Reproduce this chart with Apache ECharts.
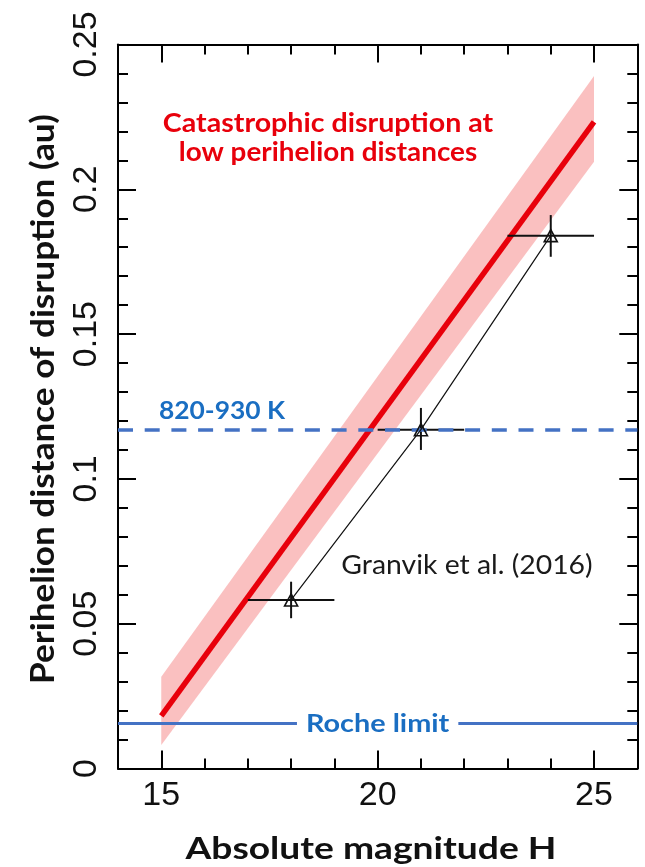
<!DOCTYPE html>
<html>
<head>
<meta charset="utf-8">
<script src="https://cdn.jsdelivr.net/npm/echarts@6/dist/echarts.min.js"></script>
<style>
  html, body { margin: 0; padding: 0; background: #fff; }
  #chart { width: 645px; height: 867px; }
</style>
</head>
<body>
<div id="chart"></div>
<script>
// Fitted disruption distance against absolute magnitude (straight line)
const fitH = [15, 25];
const fitQ = [0.0182, 0.2233];

// Uncertainty band around the fit: lower and upper edges
const bandH = [15, 25];
const bandLow = [0.0081, 0.2095];
const bandHigh = [0.0317, 0.2391];

// Granvik et al. (2016) estimates with their error ranges
const granvikH = [18, 21, 24];
const granvikQ = [0.0582, 0.117, 0.184];
const granvikHLow = [17, 20, 23];
const granvikHHigh = [19, 22, 25];
const granvikQLow = [0.0519, 0.110, 0.1767];
const granvikQHigh = [0.0645, 0.1245, 0.1911];

// Reference perihelion distances
const rocheLimit = 0.0156;
const sublimationQ = 0.117;

// Axis ranges and ticks
const xRange = [14, 26];
const yRange = [0, 0.25];
const xMajorTicks = [15, 20, 25];
const xMinorTicks = [14, 15, 16, 17, 18, 19, 20, 21, 22, 23, 24, 25, 26];
const yMajorStep = 0.05;

const BLUE_LINE = '#4472c4';
const BLUE_TEXT = '#1a6ec2';
const RED = '#e8000b';
const TICK_FONT = '"Liberation Sans", Arial, sans-serif';
const TEXT_FONT = 'Lato, "Open Sans", sans-serif';

const chart = echarts.init(document.getElementById('chart'), null, { renderer: 'canvas' });

const lineStyleBlack = { color: '#000', width: 2 };

function xAxisDef(position, ticks, len, showLine, showLabels) {
  return {
    type: 'value', position: position, min: xRange[0], max: xRange[1],
    axisLine: { show: showLine, onZero: false, lineStyle: lineStyleBlack },
    axisTick: { show: true, inside: true, length: len, customValues: ticks, lineStyle: lineStyleBlack },
    axisLabel: showLabels ? {
      show: true, customValues: xMajorTicks, margin: 10,
      fontFamily: TICK_FONT, fontSize: 34, color: '#111'
    } : { show: false },
    splitLine: { show: false }
  };
}

function yAxisDef(position, showLabels) {
  return {
    type: 'value', position: position, min: yRange[0], max: yRange[1], interval: yMajorStep,
    axisLine: { show: true, onZero: false, lineStyle: lineStyleBlack },
    axisTick: { show: true, inside: true, length: 18, lineStyle: lineStyleBlack },
    minorTick: { show: true, splitNumber: 5, length: 10, lineStyle: { color: '#000', width: 2 } },
    axisLabel: showLabels ? {
      show: true, rotate: 90, margin: 14,
      fontFamily: TICK_FONT, fontSize: 34, color: '#111'
    } : { show: false },
    splitLine: { show: false },
    minorSplitLine: { show: false }
  };
}

const bandData = bandH.map((h, i) => [h, bandLow[i], bandHigh[i]]);
const errData = granvikH.map((h, i) => [h, granvikQ[i], granvikHLow[i], granvikHHigh[i], granvikQLow[i], granvikQHigh[i]]);

const option = {
  animation: false,
  backgroundColor: '#fff',
  grid: { left: 118, top: 44.5, right: 7.7, bottom: 98.5, containLabel: false },
  xAxis: [
    xAxisDef('bottom', xMajorTicks, 18, true, true),
    xAxisDef('bottom', xMinorTicks, 10, false, false),
    xAxisDef('top', xMajorTicks, 18, true, false),
    xAxisDef('top', xMinorTicks, 10, false, false)
  ],
  yAxis: [yAxisDef('left', true), yAxisDef('right', false)],
  series: [
    {
      // shaded uncertainty band, one polygon per segment
      type: 'custom',
      xAxisIndex: 0, yAxisIndex: 0,
      z: 1,
      renderItem: function (params, api) {
        const i = params.dataIndex;
        if (i >= bandData.length - 1) return null;
        const a = bandData[i], b = bandData[i + 1];
        const pts = [
          api.coord([a[0], a[1]]), api.coord([b[0], b[1]]),
          api.coord([b[0], b[2]]), api.coord([a[0], a[2]])
        ];
        return { type: 'polygon', shape: { points: pts }, style: { fill: 'rgba(246,140,140,0.55)' } };
      },
      data: bandData,
      silent: true
    },
    {
      // best-fit line, with the two reference distances as horizontal lines
      type: 'line',
      xAxisIndex: 0, yAxisIndex: 0,
      z: 3,
      data: fitH.map((h, i) => [h, fitQ[i]]),
      symbol: 'none',
      lineStyle: { color: RED, width: 5.5 },
      silent: true,
      markLine: {
        silent: true,
        symbol: 'none',
        precision: 5,
        label: { show: false },
        data: [
          { yAxis: rocheLimit, lineStyle: { color: BLUE_LINE, width: 3, type: 'solid' } },
          { yAxis: sublimationQ, lineStyle: { color: BLUE_LINE, width: 3.5, type: [15, 11.7] } }
        ]
      }
    },
    {
      // error bars of the Granvik et al. estimates
      type: 'custom',
      xAxisIndex: 0, yAxisIndex: 0,
      z: 4,
      renderItem: function (params, api) {
        const h = api.value(0), q = api.value(1);
        const left = api.coord([api.value(2), q]);
        const right = api.coord([api.value(3), q]);
        const bottom = api.coord([h, api.value(4)]);
        const top = api.coord([h, api.value(5)]);
        const st = { stroke: '#111', lineWidth: 2 };
        return {
          type: 'group',
          children: [
            { type: 'line', shape: { x1: left[0], y1: left[1], x2: right[0], y2: right[1] }, style: st },
            { type: 'line', shape: { x1: bottom[0], y1: bottom[1], x2: top[0], y2: top[1] }, style: st }
          ]
        };
      },
      data: errData,
      silent: true
    },
    {
      // Granvik et al. estimates joined by a thin line
      type: 'line',
      xAxisIndex: 0, yAxisIndex: 0,
      z: 5,
      data: granvikH.map((h, i) => [h, granvikQ[i]]),
      symbol: 'triangle',
      symbolSize: [13, 12],
      itemStyle: { color: 'rgba(255,255,255,0)', borderColor: '#111', borderWidth: 1.6 },
      lineStyle: { color: '#111', width: 1.2 },
      silent: true
    }
  ]
};

chart.setOption(option);

// Text annotations; the two line labels follow their reference distances
const toPx = (h, q) => chart.convertToPixel({ xAxisIndex: 0, yAxisIndex: 0 }, [h, q]);
const rochePx = toPx(20, rocheLimit);
const sublPx = toPx(14, sublimationQ);

function label(text, x, y, font, fill, scaleX, extra) {
  return {
    type: 'text', x: x, y: y, scaleX: scaleX || 1, z: 20, silent: true,
    style: Object.assign({ text: text, align: 'center', verticalAlign: 'middle', font: font, fill: fill }, extra || {})
  };
}

chart.setOption({
  graphic: [
    label('Catastrophic disruption at', 328, 124, 'bold 26px ' + TEXT_FONT, RED, 1.10),
    label('low perihelion distances', 328, 153, 'bold 26px ' + TEXT_FONT, RED, 1.07),
    label('820-930 K', 222, sublPx[1] - 18, 'bold 24px ' + TEXT_FONT, BLUE_TEXT, 1.10),
    label('Roche limit', rochePx[0], rochePx[1], 'bold 25.5px ' + TEXT_FONT, BLUE_TEXT, 1.13,
      { backgroundColor: '#fff', padding: [0, 8] }),
    label('Granvik et al. (2016)', 467, 565, '26.5px ' + TEXT_FONT, '#1a1a1a', 1.07),
    label('Absolute magnitude H', 371, 849, 'bold 31px ' + TEXT_FONT, '#111', 1.2),
    Object.assign(label('Perihelion distance of disruption (au)', 44, 399, 'bold 32.5px ' + TEXT_FONT, '#111', 1.08),
      { rotation: Math.PI / 2 })
  ]
});
</script>
</body>
</html>
